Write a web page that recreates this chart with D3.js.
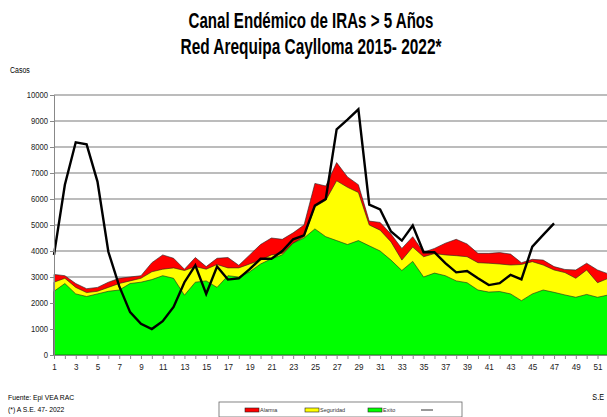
<!DOCTYPE html>
<html>
<head>
<meta charset="utf-8">
<script src="https://cdn.jsdelivr.net/npm/d3@7"></script>
<style>
  html, body { margin: 0; padding: 0; background: #fff; }
  svg { display: block; }
  text { font-family: "Liberation Sans Narrow", "Arial Narrow", "Liberation Sans", Arial, sans-serif; }
</style>
</head>
<body>
<svg id="chart" width="607" height="417"></svg>
<script>
// ---- Data ----
const weeks = d3.range(1, 53); // semanas epidemiológicas 1..52
const alarma = [3100,3050,2750,2550,2600,2800,2950,3000,3050,3550,3850,3720,3300,3750,3400,3720,3750,3450,3850,4250,
                4500,4450,4700,5000,6600,6500,7400,6850,6550,5150,5100,4650,4100,4550,3950,4100,4300,4450,4270,3910,
                3910,3940,3880,3550,3680,3650,3400,3290,3270,3530,3270,3120];
const seguridad = [2800,2950,2600,2400,2450,2600,2750,2850,2950,3200,3300,3350,3250,3400,3300,3480,3350,3350,3500,3650,
                   3850,3900,4300,4550,5700,5950,6700,6450,6250,5000,4800,4350,3650,4150,3780,3900,3850,3820,3780,3550,
                   3530,3500,3460,3480,3590,3460,3270,3170,2950,3270,2780,2950];
const exito = [2450,2750,2350,2250,2350,2450,2500,2750,2800,2900,3050,2950,2300,2800,2850,2600,3050,3000,3200,3500,
               3700,3850,4300,4500,4850,4550,4400,4250,4400,4200,4000,3650,3250,3600,3000,3150,3050,2850,2780,2500,
               2420,2440,2350,2090,2350,2500,2410,2310,2220,2330,2220,2310];
const casos2022 = [3850,6550,8180,8100,6670,3970,2650,1650,1200,1000,1300,1850,2800,3450,2350,3400,2900,2950,3300,3700,
                   3700,4000,4450,4600,5750,6000,8680,9050,9450,5780,5600,4750,4400,4980,3950,3950,3530,3180,3230,2950,
                   2690,2760,3080,2910,4170,4620,5060];
const yTicks = d3.range(0, 10001, 1000);
const xLabelWeeks = weeks.filter(w => w % 2 === 1);
const titleLines = ["Canal Endémico de IRAs > 5 Años", "Red Arequipa Caylloma 2015- 2022*"];
const legendItems = [
  {name: "Alarma", color: "#ff0000", type: "area"},
  {name: "Seguridad", color: "#ffff00", type: "area"},
  {name: "Exito", color: "#00ff00", type: "area"},
  {name: "", color: "#000000", type: "line"}
];

// ---- Helpers ----
// emulate a narrow (condensed) typeface by compressing glyphs horizontally
function narrow(sel, factor) {
  sel.each(function() {
    const len = this.getComputedTextLength();
    if (len > 0) {
      d3.select(this).attr("textLength", len * factor).attr("lengthAdjust", "spacingAndGlyphs");
    }
  });
}

// ---- Drawing ----
const svg = d3.select("#chart");
const x = d3.scaleLinear().domain([1, 52]).range([54, 608.4]);
const y = d3.scaleLinear().domain([0, 10000]).range([355, 95]);

// Title
const titleWidths = [245, 261];
svg.selectAll("text.title").data(titleLines).join("text")
  .attr("class", "title")
  .attr("x", 311).attr("y", (d, i) => 28 + i * 26)
  .attr("text-anchor", "middle")
  .attr("font-size", 22).attr("font-weight", "bold")
  .attr("fill", "#000")
  .attr("textLength", (d, i) => titleWidths[i])
  .attr("lengthAdjust", "spacingAndGlyphs")
  .text(d => d);

svg.append("text").attr("x", 10).attr("y", 73).attr("font-size", 8.5).text("Casos").call(narrow, 0.82);

// Gridlines
svg.append("g").selectAll("line").data(yTicks.filter(d => d > 0)).join("line")
  .attr("x1", x(1)).attr("x2", 607)
  .attr("y1", d => y(d)).attr("y2", d => y(d))
  .attr("stroke", "#a6a6a6").attr("stroke-width", 1.5);

// Areas (drawn overlapping: alarma, seguridad, exito)
const areaGen = vals => d3.area()
  .x((d, i) => x(weeks[i]))
  .y0(y(0))
  .y1(d => y(d))(vals);

[[alarma, "#ff0000"], [seguridad, "#ffff00"], [exito, "#00ff00"]].forEach(([vals, col]) => {
  svg.append("path")
    .attr("d", areaGen(vals))
    .attr("fill", col)
    .attr("stroke", "#222")
    .attr("stroke-width", 0.6);
});

// Line 2022
svg.append("path")
  .datum(casos2022)
  .attr("d", d3.line().x((d, i) => x(weeks[i])).y(d => y(d)))
  .attr("fill", "none")
  .attr("stroke", "#000")
  .attr("stroke-width", 2.4)
  .attr("stroke-linejoin", "miter");

// Axes
const yAxis = svg.append("g").attr("transform", `translate(${x(1)},0)`)
  .call(d3.axisLeft(y).tickValues(yTicks).tickSize(4).tickPadding(2).tickFormat(d3.format("d")));
yAxis.select(".domain").attr("stroke", "#888");
yAxis.selectAll(".tick line").attr("stroke", "#888");
yAxis.selectAll("text").attr("font-size", 9).attr("fill", "#222")
  .style("font-family", '"Liberation Sans", Arial, sans-serif').call(narrow, 0.85);

const xAxis = svg.append("g").attr("transform", `translate(0,${y(0)})`)
  .call(d3.axisBottom(x).tickValues(weeks).tickSize(4).tickPadding(4)
    .tickFormat(d => xLabelWeeks.includes(d) ? d : ""));
xAxis.select(".domain").attr("stroke", "#888");
xAxis.selectAll(".tick line").attr("stroke", "#888");
xAxis.selectAll("text").attr("font-size", 9.5).attr("fill", "#222")
  .style("font-family", '"Liberation Sans", Arial, sans-serif').call(narrow, 0.85);

svg.append("text").attr("x", 604).attr("y", 400).attr("text-anchor", "end")
  .attr("font-size", 8.5).text("S.E").call(narrow, 0.85);

// Footnotes
svg.append("text").attr("x", 8).attr("y", 400).attr("font-size", 8).text("Fuente: Epi VEA RAC").call(narrow, 0.85);
svg.append("text").attr("x", 8).attr("y", 412).attr("font-size", 8).text("(*) A S.E. 47- 2022").call(narrow, 0.85);

// Legend
const lg = svg.append("g");
lg.append("rect").attr("x", 219).attr("y", 402).attr("width", 243).attr("height", 15)
  .attr("fill", "#fff").attr("stroke", "#666").attr("stroke-width", 0.8);
const legendX = [245, 305, 368, 421];
legendItems.forEach((it, i) => {
  const gx = legendX[i];
  if (it.type === "area") {
    lg.append("rect").attr("x", gx).attr("y", 408).attr("width", 14).attr("height", 4)
      .attr("fill", it.color).attr("stroke", "#222").attr("stroke-width", 0.6);
  } else {
    lg.append("line").attr("x1", gx).attr("x2", gx + 12).attr("y1", 410).attr("y2", 410)
      .attr("stroke", "#555").attr("stroke-width", 1.2);
  }
  if (it.name) {
    lg.append("text").attr("x", gx + 15).attr("y", 412).attr("font-size", 5.5).attr("fill", "#333").text(it.name);
  }
});
</script>
</body>
</html>
